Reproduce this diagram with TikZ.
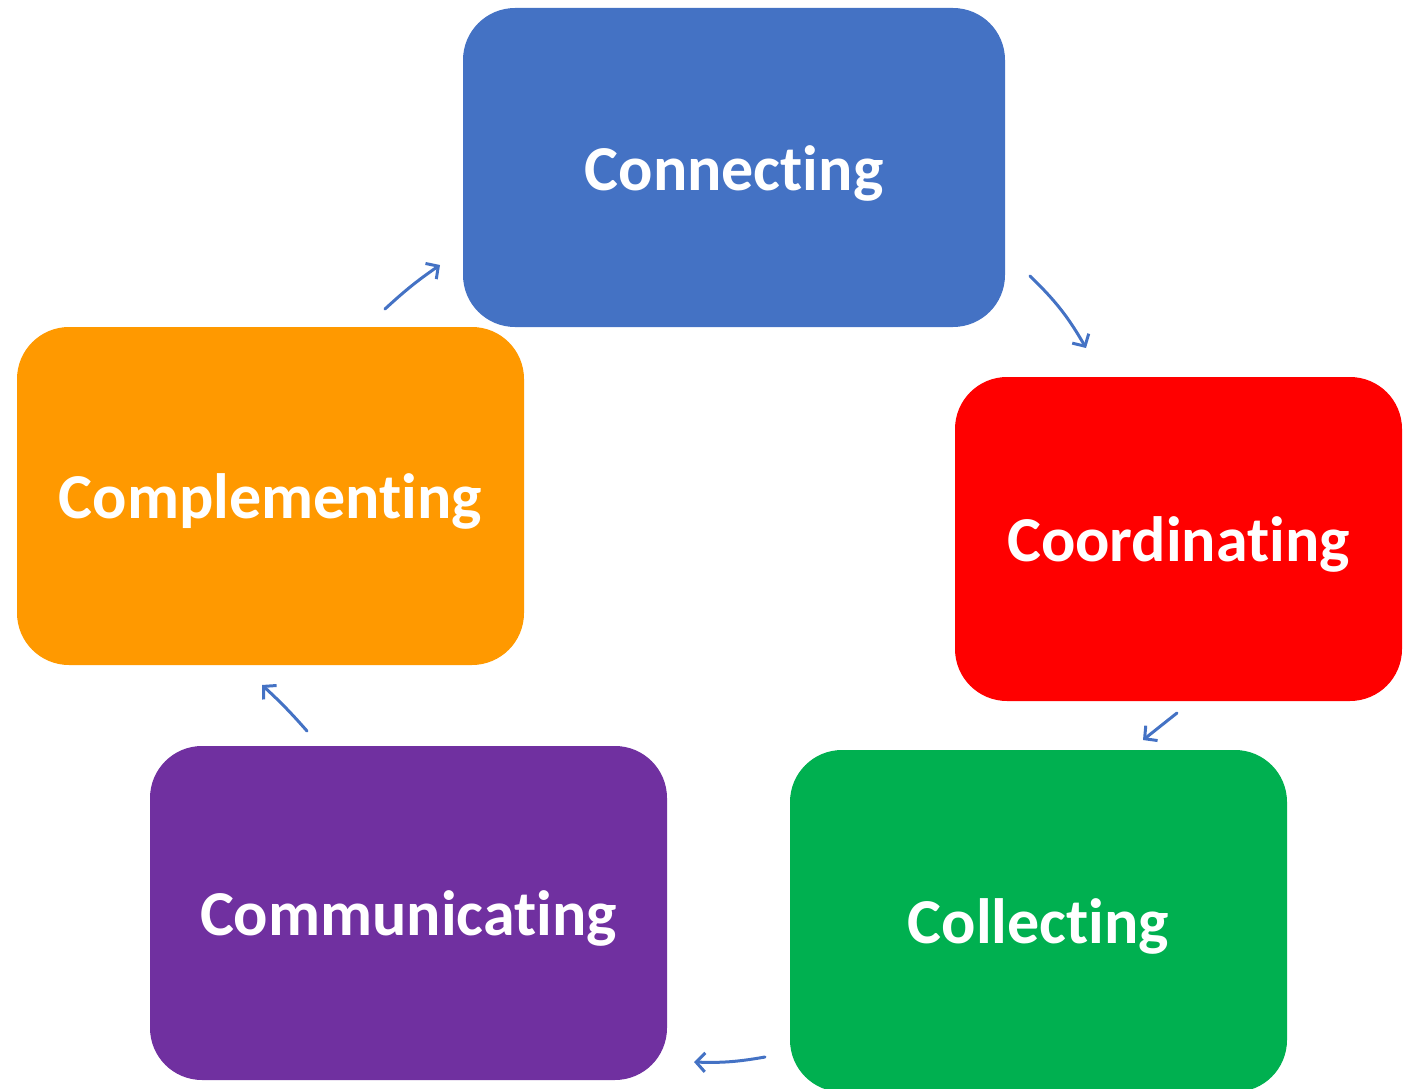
\documentclass[tikz,border=0pt]{standalone}
\usepackage{fontspec}
\setmainfont{Carlito}[Ligatures=NoCommon]
\usetikzlibrary{arrows.meta}
\definecolor{cblue}{HTML}{4472C4}
\definecolor{cred}{HTML}{FF0000}
\definecolor{cgreen}{HTML}{00B050}
\definecolor{cpurple}{HTML}{7030A0}
\definecolor{corange}{HTML}{FF9900}
\tikzset{
  box/.style={rounded corners=52pt, inner sep=0pt, text=white, text depth=0pt,
    font=\fontsize{64}{70}\selectfont\bfseries},
  cyc/.style={draw=cblue, line width=3pt, line cap=round, -{Straight Barb[length=9pt,width=19pt,line width=3pt]}}
}
\begin{document}
\begin{tikzpicture}[x=1pt,y=-1pt]
\useasboundingbox (0,0) rectangle (1403,1089);
\node[box, fill=cblue, minimum width=542pt, minimum height=319pt] (conn) at (734,167.5) {\raisebox{-1pt}{Connecting}};
\node[box, fill=cred, minimum width=447pt, minimum height=324pt] (coord) at (1178.5,539) {\raisebox{-1pt}{Coordinating}};
\node[box, fill=cgreen, minimum width=497pt, minimum height=342pt] (coll) at (1038.5,921) {\raisebox{-1pt}{Collecting}};
\node[box, fill=cpurple, minimum width=517pt, minimum height=334pt] (comm) at (408.5,913) {\raisebox{-1pt}{Communicating}};
\node[box, fill=corange, minimum width=507pt, minimum height=338pt] (compl) at (270.5,496) {\raisebox{-1pt}{Complementing}};
\coordinate (a1s) at (385,309); \coordinate (a1e) at (440,265);
\coordinate (a2s) at (1030,276); \coordinate (a2e) at (1086,348);
\coordinate (a3s) at (1177,713); \coordinate (a3e) at (1143,740);
\coordinate (a4s) at (765,1057); \coordinate (a4e) at (694,1062);
\coordinate (a5s) at (307,731); \coordinate (a5e) at (262,685);
\draw[cyc] (a1s) to[bend left=4] (a1e);
\draw[cyc] (a2s) to[bend left=8] (a2e);
\draw[cyc] (a3s) to (a3e);
\draw[cyc] (a4s) to[bend left=6] (a4e);
\draw[cyc] (a5s) to[bend right=3] (a5e);
\end{tikzpicture}
\end{document}
